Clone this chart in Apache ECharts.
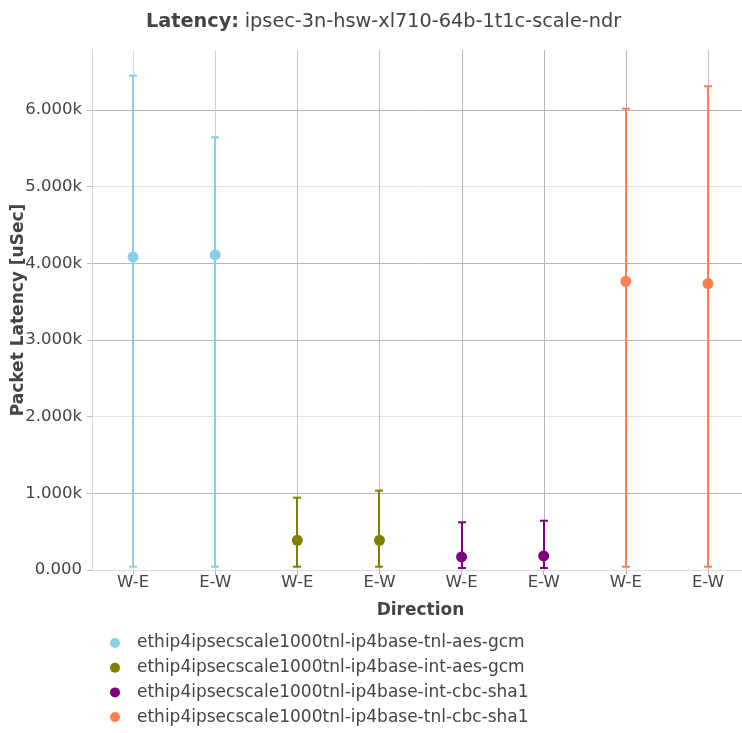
<!DOCTYPE html>
<html><head><meta charset="utf-8">
<script src="https://cdn.jsdelivr.net/npm/echarts@6/dist/echarts.min.js"></script>
<style>html,body{margin:0;padding:0;background:#fff}#c{width:742px;height:733px}</style>
</head><body><div id="c"></div>
<script>
// ---- data ----
const categories = ['W-E','E-W','W-E','E-W','W-E','E-W','W-E','E-W'];
const seriesNames = [
  'ethip4ipsecscale1000tnl-ip4base-tnl-aes-gcm',
  'ethip4ipsecscale1000tnl-ip4base-int-aes-gcm',
  'ethip4ipsecscale1000tnl-ip4base-int-cbc-sha1',
  'ethip4ipsecscale1000tnl-ip4base-tnl-cbc-sha1'
];
const seriesColors = ['#87ceeb','#808000','#800080','#ff7f50'];
// category index of each point
const tnlAesPos = [0, 1];
const intAesPos = [2, 3];
const intCbcPos = [4, 5];
const tnlCbcPos = [6, 7];
// average latency (uSec)
const tnlAesAvg = [4083, 4109];
const intAesAvg = [387, 387];
const intCbcAvg = [170, 183];
const tnlCbcAvg = [3765, 3735];
// min latency (uSec)
const tnlAesMin = [43, 43];
const intAesMin = [43, 43];
const intCbcMin = [26, 26];
const tnlCbcMin = [43, 43];
// max latency (uSec)
const tnlAesMax = [6448, 5644];
const intAesMax = [943, 1035];
const intCbcMax = [622, 643];
const tnlCbcMax = [6017, 6309];
// y axis ticks
const yTickValues = [0, 1000, 2000, 3000, 4000, 5000, 6000];
const yTickLabels = ['0.000','1.000k','2.000k','3.000k','4.000k','5.000k','6.000k'];
const yMax = 6782;

const groups = [
  [tnlAesPos, tnlAesAvg, tnlAesMin, tnlAesMax],
  [intAesPos, intAesAvg, intAesMin, intAesMax],
  [intCbcPos, intCbcAvg, intCbcMin, intCbcMax],
  [tnlCbcPos, tnlCbcAvg, tnlCbcMin, tnlCbcMax]
];

const FONT = 'DejaVu Sans';
const series = [];

// vertical grid lines at category centres (drawn under the data)
const vLineColors = ['#dcdcdc','#d0d0d0','#c6c6c6','#bcbcbc','#b6b6b6','#b6b6b6','#b6b6b6','#bcbcbc'];
series.push({
  type: 'custom', name: '_grid', z: 0, silent: true,
  data: categories.map((c, i) => [i]),
  encode: {x: 0},
  renderItem: function (params, api) {
    const i = api.value(0);
    const cs = params.coordSys;
    const x = Math.round(api.coord([i, 0])[0]) + 0.5;
    return {type: 'line', shape: {x1: x, y1: cs.y, x2: x, y2: cs.y + cs.height},
      style: {stroke: vLineColors[i], lineWidth: 1}};
  }
});

groups.forEach((g, k) => {
  const [pos, avg, mn, mx] = g;
  const color = seriesColors[k];
  series.push({
    type: 'custom', name: seriesNames[k] + ' err', z: 2,
    data: pos.map((p, i) => [p, mn[i], mx[i]]),
    encode: {x: 0, y: [1, 2]},
    renderItem: function (params, api) {
      const x = api.value(0);
      const lo = api.coord([x, api.value(1)]);
      const hi = api.coord([x, api.value(2)]);
      const cx = Math.round(lo[0]);
      const hw = 4;
      const st = {stroke: color, lineWidth: 2, fill: null};
      return {type: 'group', children: [
        {type: 'line', shape: {x1: cx, y1: lo[1], x2: cx, y2: hi[1]}, style: st},
        {type: 'line', shape: {x1: cx-hw, y1: hi[1], x2: cx+hw, y2: hi[1]}, style: st},
        {type: 'line', shape: {x1: cx-hw, y1: lo[1], x2: cx+hw, y2: lo[1]}, style: st}
      ]};
    }
  });
  series.push({
    type: 'scatter', name: seriesNames[k], z: 3,
    symbol: 'circle', symbolSize: 11,
    itemStyle: {color: color, opacity: 1},
    data: pos.map((p, i) => [p, avg[i]])
  });
});

const chart = echarts.init(document.getElementById('c'), null, {renderer: 'canvas'});
chart.setOption({
  animation: false,
  backgroundColor: '#fff',
  textStyle: {fontFamily: FONT},
  title: {
    text: '{b|Latency:} {n|ipsec-3n-hsw-xl710-64b-1t1c-scale-ndr}',
    left: 141, top: 7,
    textStyle: {
      fontWeight: 'normal',
      rich: {
        b: {fontFamily: FONT, fontSize: 19.3, fontWeight: 'bold', color: '#444'},
        n: {fontFamily: FONT, fontSize: 19.3, fontWeight: 'normal', color: '#444'}
      }
    }
  },
  grid: {left: 92, top: 50, width: 657, height: 520, containLabel: false, outerBoundsMode: 'none'},
  xAxis: {
    type: 'category', data: categories, boundaryGap: true,
    axisLine: {show: true, lineStyle: {color: '#dcdcdc', width: 1}},
    axisTick: {show: true, alignWithLabel: true, length: 5, lineStyle: {color: '#bbb'}},
    axisLabel: {color: '#444', fontSize: 16.5, fontFamily: FONT, margin: 4},
    splitLine: {show: false},
    name: 'Direction', nameLocation: 'middle', nameGap: 32, nameMoveOverlap: false,
    nameTextStyle: {color: '#444', fontSize: 17, fontWeight: 'bold', fontFamily: FONT}
  },
  yAxis: {
    type: 'value', min: 0, max: yMax, interval: 1000,
    axisLine: {show: true, lineStyle: {color: '#d8d8d8', width: 1}},
    axisTick: {show: true, length: 5, customValues: yTickValues, lineStyle: {color: '#bbb'}},
    axisLabel: {
      color: '#444', fontSize: 16.5, fontFamily: FONT, margin: 10,
      customValues: yTickValues,
      formatter: function (v) { const i = yTickValues.indexOf(v); return i >= 0 ? yTickLabels[i] : ''; }
    },
    splitLine: {show: true, lineStyle: {
      color: ['#dedede','#b8b8b8','#e2e2e2','#b8b8b8','#b8b8b8','#e2e2e2','#b8b8b8'], width: 1}},
    name: 'Packet Latency [uSec]', nameLocation: 'middle', nameGap: 65, nameRotate: 90,
    nameMoveOverlap: false,
    nameTextStyle: {color: '#444', fontSize: 17, fontWeight: 'bold', fontFamily: FONT}
  },
  legend: {
    orient: 'vertical', left: 105, top: 629.5, height: 120,
    itemWidth: 34, itemHeight: 10, itemGap: 7.7,
    icon: 'circle',
    textStyle: {color: '#444', fontSize: 17, fontFamily: FONT, lineHeight: 17},
    data: seriesNames.map(n => ({name: n, icon: 'circle'}))
  },
  series: series
});
</script>
</body></html>
